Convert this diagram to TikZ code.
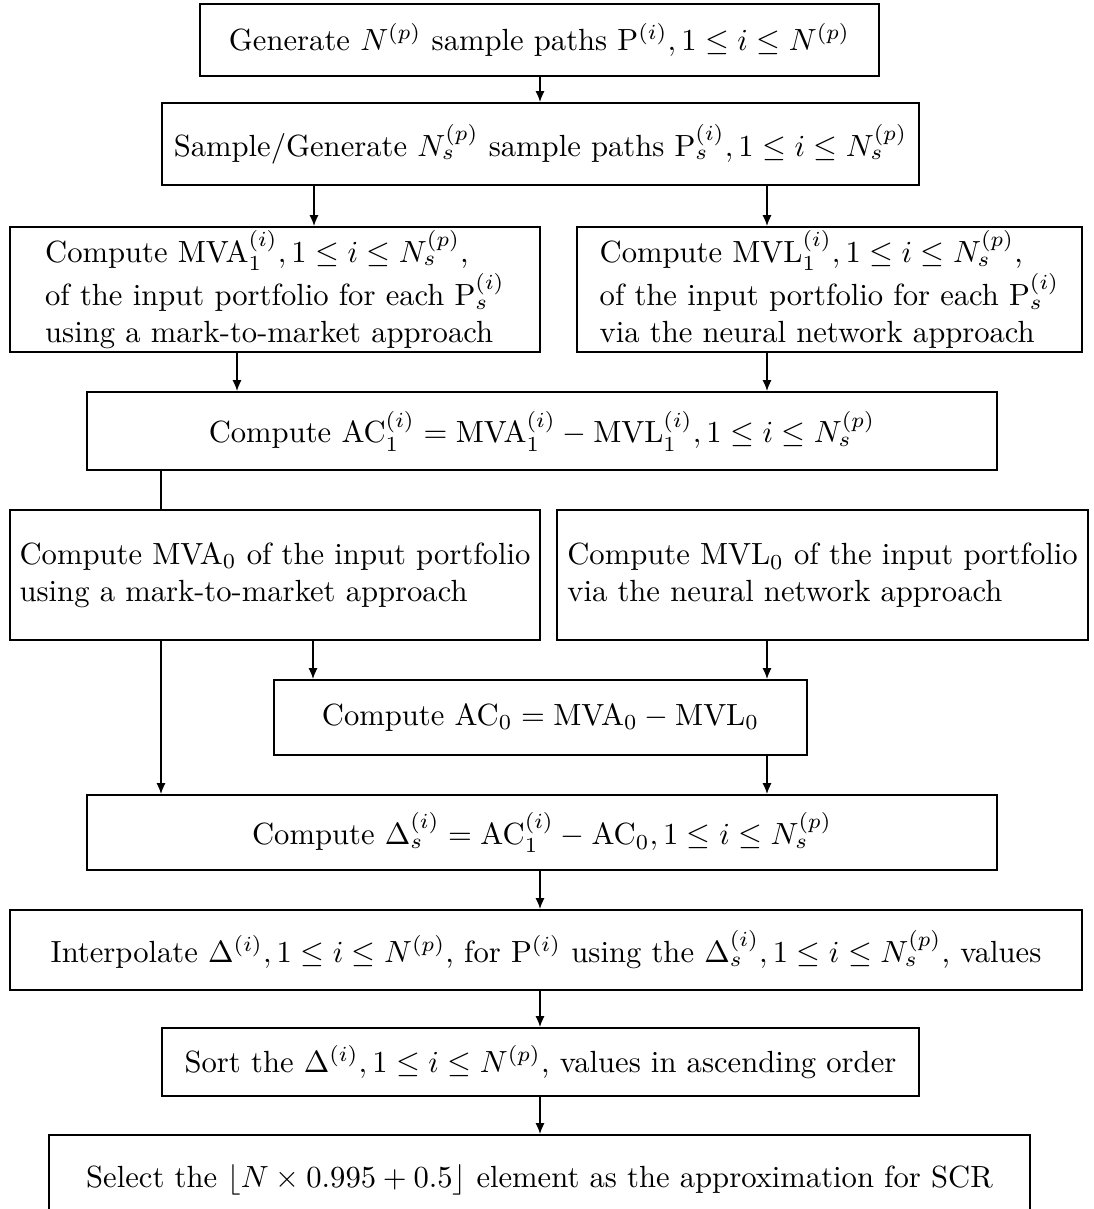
\documentclass[tikz,border=0pt]{standalone}
\usetikzlibrary{arrows.meta}
\newcommand\flowbox[7][center]{\node[box,align=#1,minimum width={(#5-#3)*0.3265pt},minimum height={(#6-#4)*0.3265pt}] (#2) at ({(#3+#5)/2},{(#4+#6)/2}) {#7};}
\begin{document}
\begin{tikzpicture}[x=0.3265pt,y=-0.3265pt,
  box/.style={draw,line width=0.6pt,inner sep=0pt},
  arr/.style={line width=0.5pt,-{Latex[length=3.6pt,width=3pt]}},
  ln/.style={line width=0.5pt}]
\useasboundingbox (0,0) rectangle (1093,1209);
\flowbox{gen}{200}{4}{879}{76}{Generate $N^{(p)}$ sample paths $\mathrm{P}^{(i)}, 1\leq i\leq N^{(p)}$}
\flowbox{samp}{162}{103}{919}{185}{Sample/Generate $N_s^{(p)}$ sample paths $\mathrm{P}_s^{(i)}, 1\leq i\leq N_s^{(p)}$}
\flowbox[left]{mvaone}{10}{227}{540}{352}{Compute $\mathrm{MVA}_1^{(i)}, 1\leq i\leq N_s^{(p)}$,\\ of the input portfolio for each $\mathrm{P}_s^{(i)}$\\ using a mark-to-market approach}
\flowbox[left]{mvlone}{577}{227}{1082}{352}{Compute $\mathrm{MVL}_1^{(i)}, 1\leq i\leq N_s^{(p)}$,\\ of the input portfolio for each $\mathrm{P}_s^{(i)}$\\ via the neural network approach}
\flowbox{acone}{87}{392}{997}{470}{Compute $\mathrm{AC}_1^{(i)}=\mathrm{MVA}_1^{(i)}-\mathrm{MVL}_1^{(i)}, 1\leq i\leq N_s^{(p)}$}
\flowbox[left]{mvazero}{10}{510}{540}{640}{Compute $\mathrm{MVA}_0$ of the input portfolio\\ using a mark-to-market approach}
\flowbox[left]{mvlzero}{557}{510}{1088}{640}{Compute $\mathrm{MVL}_0$ of the input portfolio\\ via the neural network approach}
\flowbox{aczero}{274}{680}{807}{755}{Compute $\mathrm{AC}_0=\mathrm{MVA}_0-\mathrm{MVL}_0$}
\flowbox{delta}{87}{795}{997}{870}{Compute $\Delta_s^{(i)}=\mathrm{AC}_1^{(i)}-\mathrm{AC}_0, 1\leq i\leq N_s^{(p)}$}
\flowbox{interp}{10}{910}{1082}{990}{Interpolate $\Delta^{(i)}, 1\leq i\leq N^{(p)}$, for $\mathrm{P}^{(i)}$ using the $\Delta_s^{(i)}, 1\leq i\leq N_s^{(p)}$, values}
\flowbox{sort}{162}{1028}{919}{1096}{Sort the $\Delta^{(i)}, 1\leq i\leq N^{(p)}$, values in ascending order}
\flowbox{select}{49}{1135}{1030}{1225}{Select the $\lfloor N\times 0.995+0.5\rfloor$ element as the approximation for SCR}
\draw[arr] (540,0 |- gen.south) -- (540,0 |- samp.north);
\draw[arr] (314,0 |- samp.south) -- (314,0 |- mvaone.north);
\draw[arr] (767,0 |- samp.south) -- (767,0 |- mvlone.north);
\draw[arr] (237,0 |- mvaone.south) -- (237,0 |- acone.north);
\draw[arr] (767,0 |- mvlone.south) -- (767,0 |- acone.north);
\draw[ln] (161,0 |- acone.south) -- (161,0 |- mvazero.north);
\draw[arr] (313,0 |- mvazero.south) -- (313,0 |- aczero.north);
\draw[arr] (767,0 |- mvlzero.south) -- (767,0 |- aczero.north);
\draw[arr] (161,0 |- mvazero.south) -- (161,0 |- delta.north);
\draw[arr] (767,0 |- aczero.south) -- (767,0 |- delta.north);
\draw[arr] (540,0 |- delta.south) -- (540,0 |- interp.north);
\draw[arr] (540,0 |- interp.south) -- (540,0 |- sort.north);
\draw[arr] (540,0 |- sort.south) -- (540,0 |- select.north);
\end{tikzpicture}
\end{document}
